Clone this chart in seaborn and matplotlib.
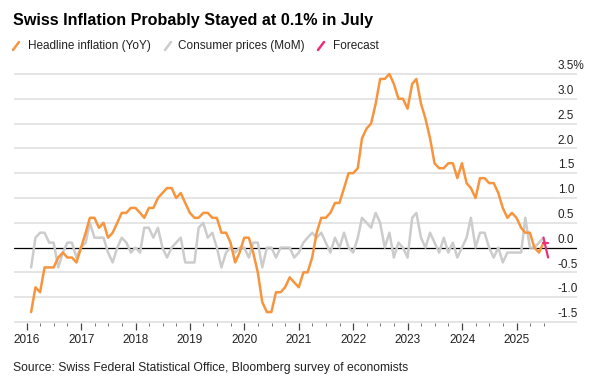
import matplotlib
matplotlib.use("Agg")
import matplotlib.pyplot as plt
from matplotlib.lines import Line2D
import pandas as pd
import numpy as np
import seaborn as sns

# monthly data, Jan 2016 - Jun 2025
headline_yoy = [
    -1.3, -0.8, -0.9, -0.4, -0.4, -0.4, -0.2, -0.1, -0.2, -0.2, -0.3, 0.0,   # 2016
    0.3, 0.6, 0.6, 0.4, 0.5, 0.2, 0.3, 0.5, 0.7, 0.7, 0.8, 0.8,              # 2017
    0.7, 0.6, 0.8, 0.8, 1.0, 1.1, 1.2, 1.2, 1.0, 1.1, 0.9, 0.7,              # 2018
    0.6, 0.6, 0.7, 0.7, 0.6, 0.6, 0.3, 0.3, 0.1, -0.3, -0.1, 0.2,            # 2019
    0.2, -0.1, -0.5, -1.1, -1.3, -1.3, -0.9, -0.9, -0.8, -0.6, -0.7, -0.8,   # 2020
    -0.5, -0.5, -0.2, 0.3, 0.6, 0.6, 0.7, 0.9, 0.9, 1.2, 1.5, 1.5,           # 2021
    1.6, 2.2, 2.4, 2.5, 2.9, 3.4, 3.4, 3.5, 3.3, 3.0, 3.0, 2.8,              # 2022
    3.3, 3.4, 2.9, 2.6, 2.2, 1.7, 1.6, 1.6, 1.7, 1.7, 1.4, 1.7,              # 2023
    1.3, 1.2, 1.0, 1.4, 1.4, 1.3, 1.3, 1.1, 0.8, 0.6, 0.7, 0.6,              # 2024
    0.4, 0.3, 0.3, 0.0, -0.1, 0.1,                                           # 2025
]
consumer_mom = [
    -0.4, 0.2, 0.3, 0.3, 0.1, 0.1, -0.4, -0.1, 0.1, 0.1, -0.2, 0.0,          # 2016
    0.1, 0.5, 0.2, 0.2, 0.2, -0.1, -0.3, 0.0, 0.2, 0.1, -0.1, 0.0,           # 2017
    -0.1, 0.4, 0.4, 0.2, 0.4, 0.0, -0.2, 0.0, 0.1, 0.2, -0.3, -0.3,          # 2018
    -0.3, 0.4, 0.5, 0.2, 0.3, 0.0, -0.4, -0.1, 0.0, -0.1, 0.0, 0.0,          # 2019
    -0.2, 0.1, 0.1, -0.4, 0.0, 0.0, -0.2, 0.0, 0.0, 0.0, -0.2, -0.1,         # 2020
    0.1, 0.2, 0.3, 0.2, 0.3, 0.1, -0.1, 0.2, 0.0, 0.3, 0.0, -0.1,            # 2021
    0.2, 0.6, 0.5, 0.4, 0.7, 0.5, 0.0, 0.3, -0.2, 0.1, 0.0, -0.2,            # 2022
    0.6, 0.7, 0.2, 0.0, 0.3, 0.1, -0.1, 0.2, -0.1, 0.1, -0.2, 0.0,           # 2023
    0.2, 0.6, 0.0, 0.3, 0.3, 0.0, -0.2, 0.0, -0.3, -0.1, -0.1, -0.1,         # 2024
    -0.1, 0.6, 0.0, 0.0, 0.1, 0.2,                                           # 2025
]
# forecast segments: June 2025 -> July 2025
forecast_yoy = [0.1, 0.1]
forecast_mom = [0.2, -0.2]

ytick_values = [-1.5, -1.0, -0.5, 0.0, 0.5, 1.0, 1.5, 2.0, 2.5, 3.0, 3.5]
ytick_labels = ["-1.5", "-1.0", "-0.5", "0.0", "0.5", "1.0", "1.5", "2.0", "2.5", "3.0", "3.5%"]
years = list(range(2016, 2026))

dates = pd.date_range("2016-01-31", periods=len(headline_yoy), freq="ME")
fc_dates = pd.date_range("2025-06-30", periods=2, freq="ME")
df = pd.DataFrame({"date": dates, "yoy": headline_yoy, "mom": consumer_mom})
fc = pd.DataFrame({"date": fc_dates, "yoy": forecast_yoy, "mom": forecast_mom})

ORANGE = "#f7953e"
GRAY = "#cccccc"
PINK = "#ec2f7b"

sns.set_theme(style="white")
plt.rcParams["font.family"] = ["Liberation Sans", "DejaVu Sans"]

fig = plt.figure(figsize=(6, 3.86), dpi=100)
ax = fig.add_axes([14 / 600, 63 / 386, 563 / 600, 254 / 386])

# horizontal grid, zero line in black
for v in ytick_values:
    if v == 0:
        ax.axhline(v, color="black", lw=0.9, zorder=2)
    else:
        ax.axhline(v, color="#e0e0e0", lw=1.2, zorder=1)

sns.lineplot(data=df, x="date", y="mom", color=GRAY, lw=1.8, ax=ax, zorder=3)
sns.lineplot(data=df, x="date", y="yoy", color=ORANGE, lw=1.8, ax=ax, zorder=4)
sns.lineplot(data=fc, x="date", y="mom", color=PINK, lw=1.6, ax=ax, zorder=5)
sns.lineplot(data=fc, x="date", y="yoy", color=PINK, lw=1.6, ax=ax, zorder=5)

ax.set_ylim(-1.52, 3.6)
ax.set_xlim(pd.Timestamp("2015-10-08"), pd.Timestamp("2026-02-10"))
for s in ax.spines.values():
    s.set_visible(False)
ax.set_xlabel("")
ax.set_ylabel("")
ax.set_yticks([])

ax.set_xticks([pd.Timestamp(f"{y}-01-01") for y in years])
ax.set_xticklabels([str(y) for y in years], fontsize=8.5, color="#222222")
minor = pd.date_range("2016-04-01", "2025-07-01", freq="QS-JAN")
ax.set_xticks([d for d in minor if d.month != 1], minor=True)
ax.tick_params(axis="x", which="major", direction="out", length=5, width=0.9,
               color="#444444", pad=3, bottom=True)
ax.tick_params(axis="x", which="minor", direction="out", length=2.5, width=0.7,
               color="#777777", bottom=True)

# value labels sit just above their gridlines on the right
for v, lab in zip(ytick_values, ytick_labels):
    ax.annotate(lab, xy=(0.966, v), xycoords=ax.get_yaxis_transform(),
                xytext=(0, 3.5), textcoords="offset points",
                ha="left", va="baseline", fontsize=8.5, color="#222222")

fig.text(13 / 600, 1 - 20 / 386, "Swiss Inflation Probably Stayed at 0.1% in July",
         fontsize=11.6, fontweight="bold", va="center", color="black")

legend_items = [("Headline inflation (YoY)", ORANGE, 13, 28),
                ("Consumer prices (MoM)", GRAY, 165, 178),
                ("Forecast", PINK, 318, 333)]
for text, col, xi, xt in legend_items:
    fig.add_artist(Line2D([xi / 600, (xi + 6) / 600],
                          [1 - 50 / 386, 1 - 42 / 386],
                          transform=fig.transFigure, color=col, lw=1.8))
    fig.text(xt / 600, 1 - 46 / 386, text, fontsize=8.5, va="center", color="#222222")

fig.text(13 / 600, 1 - 368 / 386,
         "Source: Swiss Federal Statistical Office, Bloomberg survey of economists",
         fontsize=8.7, va="center", color="#222222")

fig.savefig("out.png", dpi=100)
